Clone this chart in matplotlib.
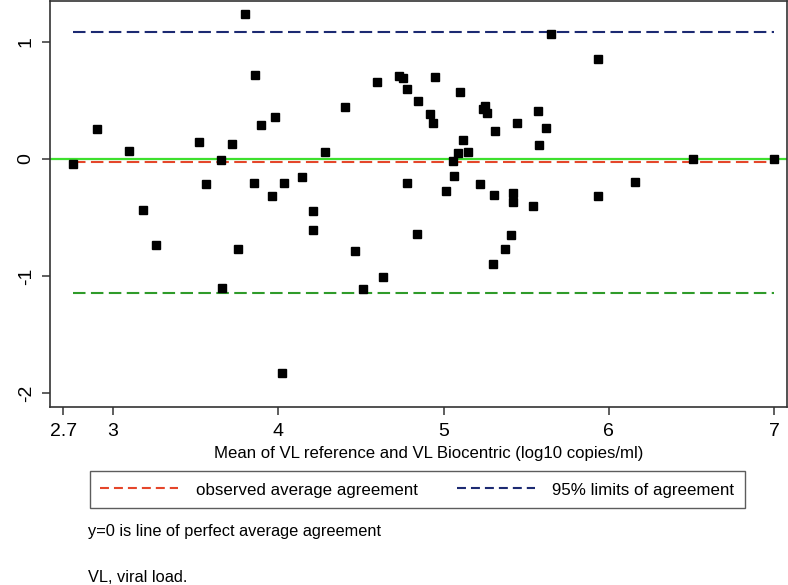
import matplotlib
matplotlib.use("Agg")
import matplotlib.pyplot as plt
from matplotlib.lines import Line2D

plt.rcParams['font.family'] = ['Liberation Sans', 'DejaVu Sans']

# Bland-Altman data: mean of two measurements (x) and difference (y)
x_mean = [2.756, 2.905, 3.099, 3.183, 3.518, 3.561, 3.655, 3.718, 3.799, 3.859,
          3.855, 3.895, 3.960, 3.978, 4.034, 4.142, 4.212, 4.281, 4.402, 4.599,
          4.732, 4.753, 4.777, 4.847, 4.918, 4.934, 4.950, 5.101, 5.117, 5.149,
          5.085, 5.059, 5.063, 5.015, 4.777, 5.220, 5.250, 5.240, 5.264, 5.309,
          5.303, 5.422, 5.422, 5.444, 5.539, 5.573, 5.618, 5.579, 5.648, 5.932,
          5.936, 6.158, 6.507, 6.997, 3.262, 3.754, 3.659, 4.212, 4.466, 4.514,
          4.633, 4.024, 4.841, 5.406, 5.373, 5.301]
y_diff = [-0.045, 0.254, 0.071, -0.438, 0.148, -0.216, -0.011, 0.131, 1.242, 0.721,
          -0.208, 0.291, -0.316, 0.362, -0.208, -0.156, -0.447, 0.062, 0.442, 0.661,
          0.712, 0.692, 0.601, 0.493, 0.385, 0.310, 0.701, 0.570, 0.165, 0.062,
          0.049, -0.020, -0.148, -0.271, -0.208, -0.216, 0.453, 0.425, 0.391, 0.239,
          -0.308, -0.288, -0.368, 0.310, -0.399, 0.413, 0.265, 0.120, 1.066, 0.852,
          -0.316, -0.197, 0.003, 0.003, -0.738, -0.769, -1.100, -0.607, -0.789, -1.111,
          -1.006, -1.829, -0.638, -0.647, -0.769, -0.897]

mean_diff = -0.028
upper_loa = 1.083
lower_loa = -1.148

x_ticks = [2.7, 3, 4, 5, 6, 7]
x_tick_labels = ["2.7", "3", "4", "5", "6", "7"]
y_ticks = [-2, -1, 0, 1]
y_tick_labels = ["-2", "-1", "0", "1"]

x_label = "Mean of VL reference and VL Biocentric (log10 copies/ml)"
legend_labels = ["observed average agreement", "95% limits of agreement"]
note1 = "y=0 is line of perfect average agreement"
note2 = "VL, viral load."

RED = '#e5462b'
NAVY = '#1c2a72'
GREEN_DASH = '#2f9b2a'
GREEN_SOLID = '#3ee02e'

fig = plt.figure(figsize=(7.88, 5.85), dpi=100)
ax = fig.add_axes([50/788, 1-406.7/585, (786.7-50)/788, (406.7-1)/585])

xmin, xmax = min(x_mean), max(x_mean)
dash = (6, 2.6)
ax.axhline(0, color=GREEN_SOLID, lw=1.6, zorder=1)
ax.plot([xmin, xmax], [mean_diff, mean_diff], color=RED, lw=1.5, dashes=dash, zorder=2)
ax.plot([xmin, xmax], [upper_loa, upper_loa], color=NAVY, lw=1.5, dashes=dash, zorder=2)
ax.plot([xmin, xmax], [lower_loa, lower_loa], color=GREEN_DASH, lw=1.5, dashes=dash, zorder=2)
ax.plot(x_mean, y_diff, linestyle='none', marker='s', ms=5.4, color='black', zorder=3)

ax.set_xlim(2.619, 7.076)
ax.set_ylim(-2.117, 1.35)
ax.set_xticks(x_ticks)
ax.set_xticklabels(x_tick_labels, fontsize=14)
ax.set_yticks(y_ticks)
ax.set_yticklabels(y_tick_labels, fontsize=14, rotation=90, va='center')
ax.tick_params(axis='both', direction='out', length=6, width=1.1, color='#333333')
ax.tick_params(axis='x', pad=6)
ax.tick_params(axis='y', pad=5)
for s in ax.spines.values():
    s.set_color('#333333')
    s.set_linewidth(1.2)
ax.set_xlabel(x_label, fontsize=12.1)
ax.xaxis.set_label_coords(0.514, -0.115)
ax.xaxis.label.set_va('center')

leg_dash = (4.3, 2.4)
handles = [Line2D([], [], color=RED, lw=1.5, dashes=leg_dash),
           Line2D([], [], color=NAVY, lw=1.5, dashes=leg_dash)]
leg = fig.legend(handles, legend_labels, ncol=2, loc='upper left',
                 bbox_to_anchor=(90/788, 1-470.7/585),
                 borderaxespad=0, fontsize=12.2, frameon=True,
                 fancybox=False, edgecolor='#333333', handlelength=4.6,
                 handleheight=1.1, handletextpad=1.05, columnspacing=2.3,
                 borderpad=0.6)
leg.get_frame().set_linewidth(1.0)

fig.text(88/788, 1-531.5/585, note1, fontsize=11.8, va='center', ha='left')
fig.text(88/788, 1-578/585, note2, fontsize=11.8, va='center', ha='left')

fig.savefig('out.png', dpi=100)
